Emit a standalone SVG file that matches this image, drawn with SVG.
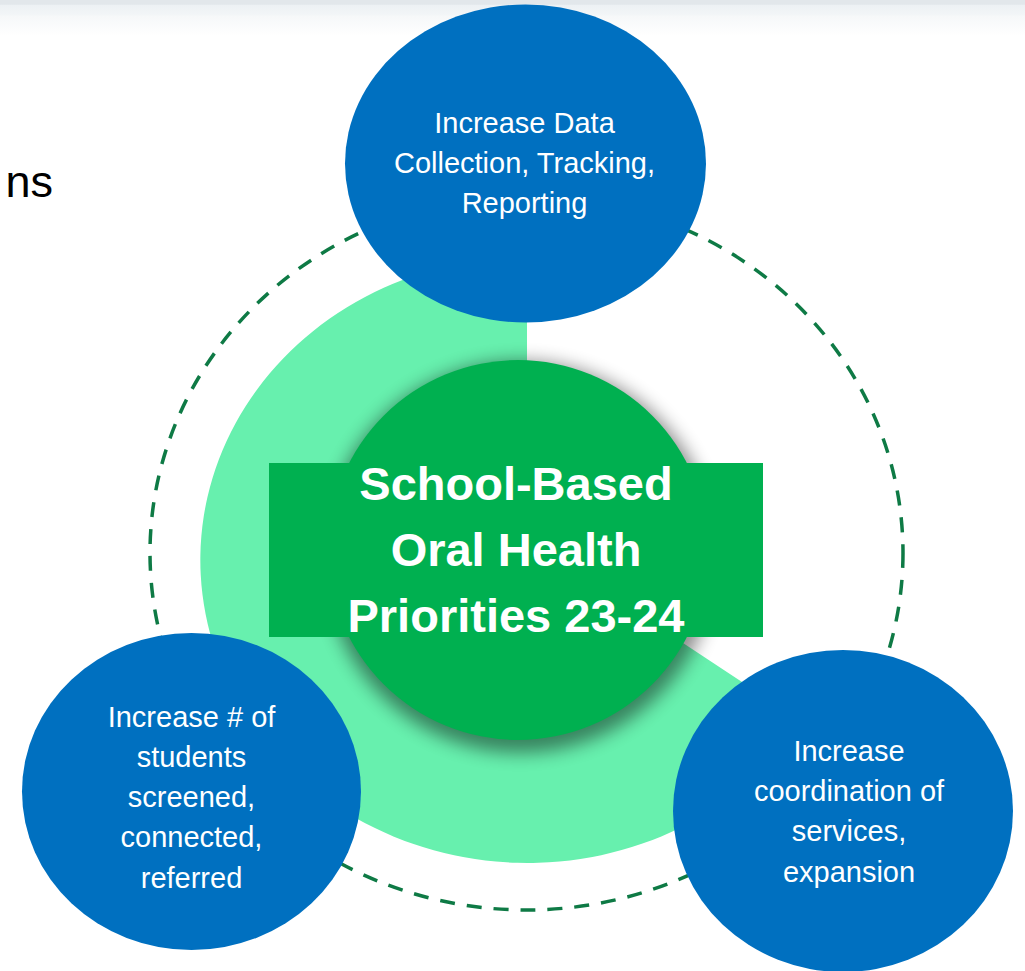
<svg xmlns="http://www.w3.org/2000/svg" width="1025" height="971" viewBox="0 0 1025 971">
  <defs>
    <linearGradient id="topband" x1="0" y1="0" x2="0" y2="1">
      <stop offset="0" stop-color="#e2e7eb"/>
      <stop offset="0.12" stop-color="#e2e7eb"/>
      <stop offset="0.14" stop-color="#edf1f4"/>
      <stop offset="0.4" stop-color="#f2f5f7"/>
      <stop offset="0.45" stop-color="#f6f8f9"/>
      <stop offset="1" stop-color="#ffffff"/>
    </linearGradient>
    <filter id="soft" x="-30%" y="-30%" width="160%" height="160%">
      <feGaussianBlur stdDeviation="9"/>
    </filter>
    <style>
      .blue { fill: #0070C0; }
      .ntext { font-family: "Liberation Sans", Arial, sans-serif; font-size: 29px; fill: #ffffff; text-anchor: middle; }
      .title { font-family: "Liberation Sans", Arial, sans-serif; font-size: 47px; font-weight: bold; fill: #ffffff; text-anchor: middle; }
      .ring { fill: none; stroke: #0E7A45; stroke-width: 3.5; stroke-dasharray: 15 12; }
    </style>
  </defs>

  <rect x="0" y="0" width="1025" height="971" fill="#ffffff"/>
  <rect x="0" y="0" width="1025" height="36" fill="url(#topband)"/>

  <text x="53" y="197" font-family="Liberation Sans, Arial, sans-serif" font-size="45" fill="#000000" text-anchor="end">ns</text>

  <g id="connectors">
    <ellipse class="ring" cx="526.5" cy="553" rx="376.5" ry="357"/>
  </g>

  <g id="pie">
    <path d="M527,540 L527,257 A327,303 0 1,0 803.4,722.4 Z" fill="#67F0AE"/>
  </g>

  <g id="center">
    <circle cx="520" cy="557" r="196" fill="#000000" opacity="0.45" filter="url(#soft)"/>
    <circle cx="518" cy="550" r="190" fill="#00B050"/>
    <rect x="269" y="463" width="494" height="174" fill="#00B050"/>
    <text class="title" x="516" y="500">School-Based</text>
    <text class="title" x="516" y="566">Oral Health</text>
    <text class="title" x="516" y="632">Priorities 23-24</text>
  </g>

  <g id="node-data">
    <ellipse class="blue" cx="525.5" cy="163.5" rx="180.5" ry="159"/>
    <text class="ntext" x="524.5" y="133">Increase Data</text>
    <text class="ntext" x="524.5" y="173">Collection, Tracking,</text>
    <text class="ntext" x="524.5" y="213">Reporting</text>
  </g>

  <g id="node-students">
    <ellipse class="blue" cx="191.5" cy="791.5" rx="169.5" ry="158.5"/>
    <text class="ntext" x="191.5" y="727">Increase # of</text>
    <text class="ntext" x="191.5" y="767">students</text>
    <text class="ntext" x="191.5" y="807">screened,</text>
    <text class="ntext" x="191.5" y="847">connected,</text>
    <text class="ntext" x="191.5" y="888">referred</text>
  </g>

  <g id="node-coordination">
    <ellipse class="blue" cx="843" cy="811" rx="170" ry="161"/>
    <text class="ntext" x="849" y="761">Increase</text>
    <text class="ntext" x="849" y="801">coordination of</text>
    <text class="ntext" x="849" y="841">services,</text>
    <text class="ntext" x="849" y="882">expansion</text>
  </g>
</svg>
